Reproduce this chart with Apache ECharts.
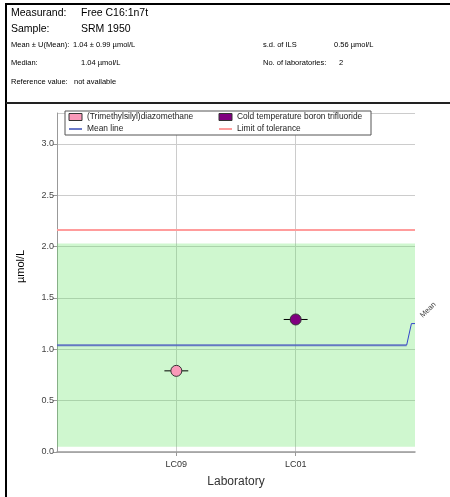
<!DOCTYPE html>
<html>
<head>
<meta charset="utf-8">
<script src="https://cdn.jsdelivr.net/npm/echarts@6/dist/echarts.min.js"></script>
<style>
    html, body { margin: 0; padding: 0; background: #fff; }
    #chart { width: 450px; height: 497px; }
</style>
</head>
<body>
<div id="chart"></div>
<script>
    // laboratories, one result each
    const labNames = ['LC09', 'LC01'];
    const labPos = [1, 2];
    const labValues = [0.79, 1.29];
    const labErr = [0.1, 0.1];
    const methodNames = ['(Trimethylsilyl)diazomethane', 'Cold temperature boron trifluoride'];
    const methodColors = ['#f999b9', '#800080'];

    // summary values
    const meanValue = 1.04;
    const meanU = 0.99;
    const toleranceLimit = 2.16;
    const meanLineX = [0, 2.93];
    // little leader line to the "Mean" tag
    const meanLeaderX = [2.93, 2.97, 3.0];
    const meanLeaderY = [1.04, 1.25, 1.25];

    const font = 'Liberation Sans, Arial, sans-serif';

    let mChart = echarts.init(document.getElementById('chart'));

    function headText(x, y, text, size) {
        return {
            type: 'text', left: x, top: y, silent: true,
            style: { text: text, fontSize: size, fontFamily: font, fill: '#000' }
        };
    }

    let series = [];

    // green band mean +- U
    series.push({
        type: 'line', name: 'band', data: [], silent: true,
        markArea: {
            silent: true,
            itemStyle: { color: 'rgba(95,228,95,0.3)' },
            data: [[{ yAxis: meanValue - meanU }, { yAxis: meanValue + meanU }]]
        }
    });

    series.push({
        type: 'line', name: 'Limit of tolerance', symbol: 'none',
        lineStyle: { color: '#ff9c9c', width: 2 }, itemStyle: { color: '#ff9c9c' },
        data: [[0, toleranceLimit], [3, toleranceLimit]]
    });

    series.push({
        type: 'line', name: 'Mean line', symbol: 'none',
        lineStyle: { color: '#5062c0', width: 2, opacity: 0.85 }, itemStyle: { color: '#8a94dc' },
        data: meanLineX.map(x => [x, meanValue])
    });

    series.push({
        type: 'line', name: 'leader', symbol: 'circle', symbolSize: 1, showSymbol: true, clip: false,
        lineStyle: { color: '#3344cc', width: 1 }, itemStyle: { color: 'rgba(0,0,0,0)' },
        data: meanLeaderX.map((x, i) => [x, meanLeaderY[i]]),
        label: {
            show: true, position: 'right', distance: 7, rotate: 44, offset: [4, -6],
            fontSize: 7.5, fontFamily: font, color: '#444',
            formatter: p => p.dataIndex === meanLeaderX.length - 1 ? 'Mean' : ''
        }
    });

    // horizontal error bars
    series.push({
        type: 'custom', name: 'err', silent: true, z: 3,
        data: labPos.map((x, i) => [x, labValues[i], labErr[i]]),
        renderItem: function (params, api) {
            let a = api.coord([api.value(0) - api.value(2), api.value(1)]);
            let b = api.coord([api.value(0) + api.value(2), api.value(1)]);
            return {
                type: 'line',
                shape: { x1: a[0], y1: a[1], x2: b[0], y2: b[1] },
                style: { stroke: '#000', lineWidth: 1 }
            };
        }
    });

    methodNames.forEach((name, i) => {
        series.push({
            type: 'scatter', name: name, symbol: 'circle', symbolSize: 11, z: 5,
            itemStyle: { color: methodColors[i], borderColor: '#333', borderWidth: 1, opacity: 1 },
            data: [[labPos[i], labValues[i]]]
        });
    });

    let legendBase = {
        orient: 'vertical', top: 113, padding: 0, z: 20,
        itemWidth: 13, itemHeight: 7, itemGap: 4,
        textStyle: { fontSize: 8.4, fontFamily: font, color: '#222' },
        selectedMode: false
    };
    let rectIcon = { icon: 'rect', itemStyle: { borderColor: '#333', borderWidth: 1 } };
    let lineIcon = { itemStyle: { opacity: 0, borderWidth: 0 } };

    let options = {
        animation: false,
        backgroundColor: '#fff',
        grid: { left: 57, right: 35, top: 113, bottom: 45 },
        legend: [
            Object.assign({}, legendBase, {
                left: 68,
                data: [Object.assign({ name: methodNames[0] }, rectIcon), Object.assign({ name: 'Mean line' }, lineIcon)]
            }),
            Object.assign({}, legendBase, {
                left: 218,
                data: [Object.assign({ name: methodNames[1] }, rectIcon), Object.assign({ name: 'Limit of tolerance' }, lineIcon)]
            })
        ],
        xAxis: {
            type: 'value', min: 0, max: 3, interval: 1, offset: 3,
            name: 'Laboratory', nameLocation: 'middle', nameGap: 21,
            nameTextStyle: { fontSize: 12, fontFamily: font, color: '#333' },
            axisLine: { show: true, lineStyle: { color: '#999', width: 1.5 } },
            axisTick: { show: true, length: 4, customValues: labPos, lineStyle: { color: '#999' } },
            axisLabel: {
                fontSize: 9, fontFamily: font, color: '#333', margin: 5,
                customValues: labPos,
                formatter: v => { let k = labPos.indexOf(v); return k >= 0 ? labNames[k] : ''; }
            },
            splitLine: { show: true, lineStyle: { color: '#cccccc', width: 1 } }
        },
        yAxis: {
            type: 'value', min: 0, max: 3.3, interval: 0.5,
            name: 'µmol/L', nameLocation: 'middle', nameGap: 31,
            nameTextStyle: { fontSize: 11, fontFamily: font, color: '#000', padding: [0, 0, 0, 32] },
            axisLine: { show: true, lineStyle: { color: '#999' } },
            axisTick: { show: true, length: 4, lineStyle: { color: '#999' } },
            axisLabel: {
                fontSize: 9, fontFamily: font, color: '#444', margin: 3,
                formatter: v => v.toFixed(1), showMaxLabel: false
            },
            splitLine: { show: true, lineStyle: { color: '#cccccc', width: 1 } }
        },
        graphic: [
            // frame of the report
            { type: 'rect', shape: { x: 6, y: 4, width: 460, height: 500 }, style: { fill: 'none', stroke: '#000', lineWidth: 2 }, silent: true, z: 30 },
            { type: 'line', shape: { x1: 6, y1: 103, x2: 450, y2: 103 }, style: { stroke: '#222', lineWidth: 2 }, silent: true, z: 30 },
            headText(11, 8, 'Measurand:', 10.5),
            headText(81, 8, 'Free C16:1n7t', 10.5),
            headText(11, 24, 'Sample:', 10.5),
            headText(81, 24, 'SRM 1950', 10.5),
            headText(11, 40.5, 'Mean ± U(Mean):', 7.5),
            headText(73, 40.5, '1.04 ± 0.99 µmol/L', 7.5),
            headText(263, 40.5, 's.d. of ILS', 7.5),
            headText(334, 40.5, '0.56 µmol/L', 7.5),
            headText(11, 58.5, 'Median:', 7.5),
            headText(81, 58.5, '1.04 µmol/L', 7.5),
            headText(263, 58.5, 'No. of laboratories:', 7.5),
            headText(339, 58.5, '2', 7.5),
            headText(11, 77.5, 'Reference value:', 7.5),
            headText(74, 77.5, 'not available', 7.5),
            // legend box
            { type: 'rect', shape: { x: 65, y: 111, width: 306, height: 24 }, style: { fill: '#fff', stroke: '#555', lineWidth: 1 }, silent: true, z: 10 }
        ],
        series: series
    };
    mChart.setOption(options);
</script>
</body>
</html>
